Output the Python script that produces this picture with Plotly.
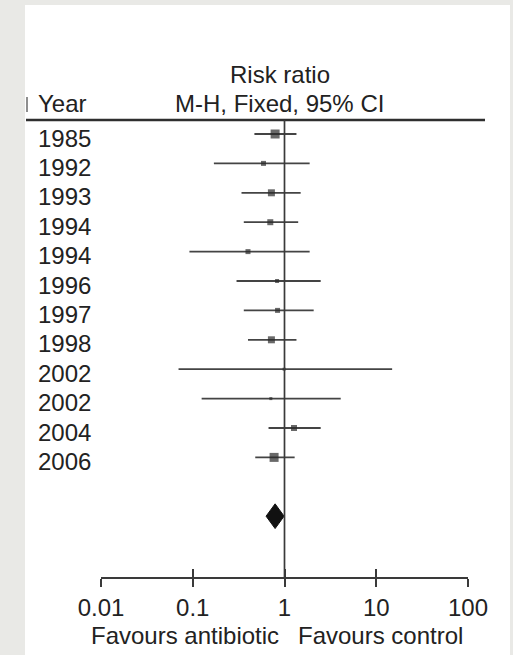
import plotly.graph_objects as go

W, H = 513, 655

years = ["1985", "1992", "1993", "1994", "1994", "1996", "1997", "1998", "2002", "2002", "2004", "2006"]
rr = [0.79, 0.59, 0.72, 0.70, 0.40, 0.83, 0.84, 0.72, 0.99, 0.71, 1.27, 0.77]
ci_low = [0.47, 0.17, 0.34, 0.36, 0.092, 0.30, 0.36, 0.40, 0.07, 0.125, 0.67, 0.48]
ci_high = [1.35, 1.88, 1.50, 1.41, 1.88, 2.48, 2.08, 1.35, 14.9, 4.1, 2.48, 1.29]
weights = [9, 5, 7, 6, 5, 4, 5, 7, 3, 3, 6, 9]  # marker size ~ study weight

pooled_rr, pooled_low, pooled_high = 0.79, 0.63, 0.99

tick_vals = [0.01, 0.1, 1, 10, 100]
tick_text = ["0.01", "0.1", "1", "10", "100"]

FONT = "Liberation Sans, Arial, sans-serif"
INK = "#222222"
LINE = "#3a3a3a"
FS = 24

def px(x):
    return x / W

def py(y):
    return 1 - y / H

rows = list(range(len(years)))
pooled_row = len(years) + 1
half_h = 0.42

fig = go.Figure()

fig.add_trace(go.Scatter(
    x=rr, y=rows, mode="markers",
    marker=dict(symbol="square", size=weights, color="#2a2a2a", line=dict(width=0)),
    error_x=dict(type="data", symmetric=False,
                 array=[h - e for h, e in zip(ci_high, rr)],
                 arrayminus=[e - l for e, l in zip(rr, ci_low)],
                 color="#444444", thickness=1.8, width=0),
    showlegend=False, hoverinfo="skip",
))

fig.add_trace(go.Scatter(
    x=[pooled_low, pooled_rr, pooled_high, pooled_rr, pooled_low],
    y=[pooled_row, pooled_row - half_h, pooled_row, pooled_row + half_h, pooled_row],
    mode="lines", fill="toself", fillcolor="#111111",
    line=dict(color="#111111", width=1),
    showlegend=False, hoverinfo="skip",
))

fig.add_trace(go.Scatter(x=[1], y=[0], xaxis="x2", mode="markers",
                         marker=dict(opacity=0), showlegend=False, hoverinfo="skip"))

y_bottom_px, y_top_px = 577, 120
row0_px, row_step = 134, 29.4
yr = [(y_bottom_px - row0_px) / row_step, (y_top_px - row0_px) / row_step]

xdom = [px(101), px(468)]
fig.update_layout(
    width=W, height=H,
    margin=dict(l=0, r=0, t=0, b=0, autoexpand=False),
    paper_bgcolor="#e9e9e6",
    plot_bgcolor="rgba(0,0,0,0)",
    font=dict(family=FONT, color=INK, size=FS),
    xaxis=dict(type="log", domain=xdom, range=[-2, 2], automargin=False,
               showgrid=False, zeroline=False,
               showline=True, linecolor=LINE, linewidth=1.7,
               ticks="outside", ticklen=8, tickwidth=1.7, tickcolor=LINE,
               tickvals=tick_vals, ticktext=tick_text,
               tickfont=dict(size=FS, color=INK), anchor="y"),
    xaxis2=dict(type="log", domain=xdom, range=[-2, 2], overlaying="x", automargin=False,
                anchor="y", side="bottom", showgrid=False, zeroline=False,
                showline=False, ticks="inside", ticklen=8, tickwidth=1.7,
                tickcolor=LINE, tickvals=tick_vals, showticklabels=False),
    yaxis=dict(domain=[py(y_bottom_px), py(y_top_px)], range=yr, automargin=False,
               visible=False, showgrid=False, zeroline=False),
)

shapes = [
    dict(type="rect", xref="paper", yref="paper", x0=px(25), x1=px(510),
         y0=0, y1=py(5), fillcolor="white", line=dict(width=0), layer="below"),
    dict(type="line", xref="paper", yref="paper", x0=px(26), x1=px(485),
         y0=py(120), y1=py(120), line=dict(color="#2e2e2e", width=2.6)),
    dict(type="line", xref="x", yref="paper", x0=1, x1=1,
         y0=py(y_bottom_px), y1=py(y_top_px), line=dict(color=LINE, width=1.7)),
    dict(type="line", xref="paper", yref="paper", x0=px(27), x1=px(27),
         y0=py(97), y1=py(112), line=dict(color="#444444", width=1.2)),
]
fig.update_layout(shapes=shapes)

ann = []
for i, yv in enumerate(years):
    ann.append(dict(x=px(36), y=i, xref="paper", yref="y", text=yv,
                    xanchor="left", yanchor="middle", yshift=-4,
                    showarrow=False, font=dict(size=FS, color=INK)))
ann += [
    dict(x=px(280), y=py(75), xref="paper", yref="paper", text="Risk ratio",
         xanchor="center", yanchor="middle", showarrow=False, font=dict(size=FS)),
    dict(x=px(279), y=py(104), xref="paper", yref="paper", text="M-H, Fixed, 95% CI",
         xanchor="center", yanchor="middle", showarrow=False, font=dict(size=FS)),
    dict(x=px(36), y=py(104), xref="paper", yref="paper", text="Year",
         xanchor="left", yanchor="middle", showarrow=False, font=dict(size=FS)),
    dict(x=px(281), y=py(635), xref="paper", yref="paper", text="Favours antibiotic",
         xanchor="right", yanchor="middle", showarrow=False, font=dict(size=FS)),
    dict(x=px(296), y=py(635), xref="paper", yref="paper", text="Favours control",
         xanchor="left", yanchor="middle", showarrow=False, font=dict(size=FS)),
]
fig.update_layout(annotations=ann)

fig.write_html("out.html", config={"displayModeBar": False},
               post_script="document.body.style.margin='0';document.body.style.background='#e9e9e6';")
